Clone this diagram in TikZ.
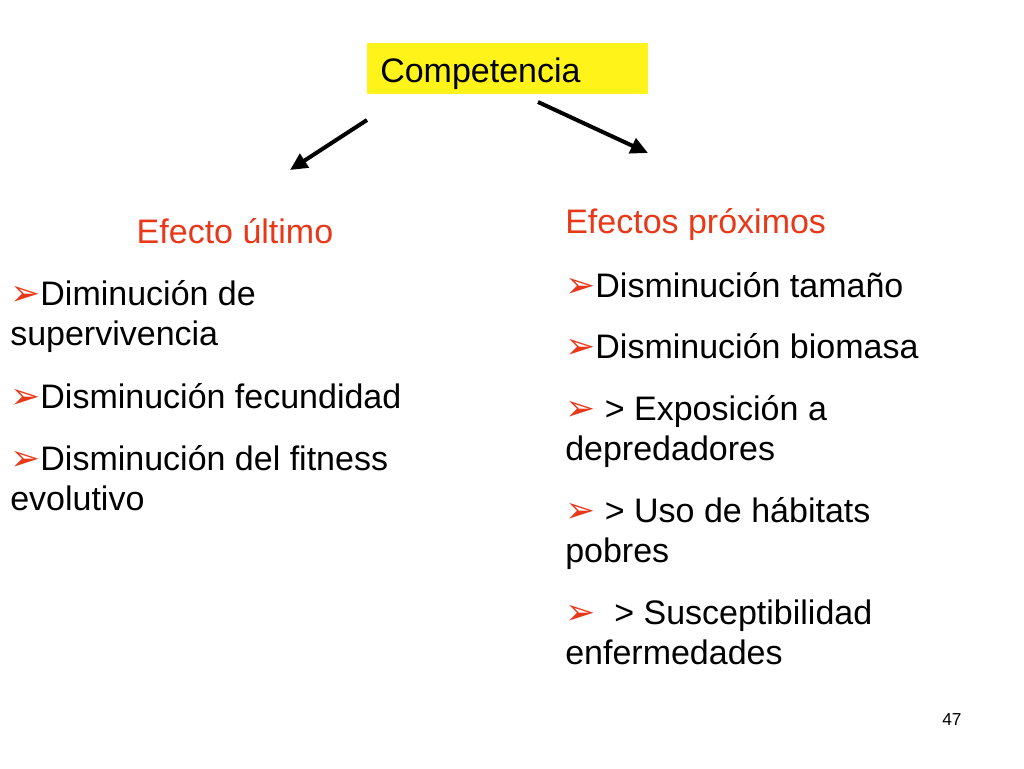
\documentclass[tikz,border=0pt]{standalone}
\usepackage{fontspec}
\setmainfont{Liberation Sans}
\newfontfamily\dv{DejaVu Sans}
\usetikzlibrary{arrows.meta}
\definecolor{tred}{HTML}{E8381A}
\newcommand{\bul}{{\dv\color{tred}\fontsize{27}{27}\selectfont ➢}}
\begin{document}
\begin{tikzpicture}[x=0.75pt,y=-0.75pt,
  txt/.style={anchor=base west,inner sep=0pt,font=\fontsize{25.5}{30}\selectfont},
  conn/.style={line width=3pt,-{Triangle[length=13pt,width=12pt]}}]
\useasboundingbox (0,0) rectangle (1024,768);
\fill[yellow!90!white] (367,43) rectangle (648,94);
\node[txt] (c) at (380,82) {Competencia};
\coordinate (a1) at (367,120); \coordinate (b1) at (290,170);
\coordinate (a2) at (538,102); \coordinate (b2) at (648,153);
\draw[conn] (a1) -- (b1);
\draw[conn] (a2) -- (b2);
\node[txt,anchor=base,text=tred] (l0) at (235,243) {Efecto último};
\node[txt] (l1) at (10,305) {\bul Diminución de};
\node[txt] (l1b) at (10,345) {supervivencia};
\node[txt] (l2) at (10,408) {\bul Disminución fecundidad};
\node[txt] (l3) at (10,470) {\bul Disminución del fitness};
\node[txt] (l3b) at (10,510) {evolutivo};
\node[txt,text=tred] (r0) at (565,233) {Efectos próximos};
\node[txt] (r1) at (565,297) {\bul Disminución tamaño};
\node[txt] (r2) at (565,358) {\bul Disminución biomasa};
\node[txt] (r3) at (565,420) {\bul\ > Exposición a};
\node[txt] (r3b) at (565,460) {depredadores};
\node[txt] (r4) at (565,522) {\bul\ > Uso de hábitats};
\node[txt] (r4b) at (565,562) {pobres};
\node[txt] (r5) at (565,624) {\bul\ \ > Susceptibilidad};
\node[txt] (r5b) at (565,664) {enfermedades};
\node[anchor=base west,inner sep=0pt,font=\fontsize{13}{13}\selectfont] (n) at (942,725) {47};
\end{tikzpicture}
\end{document}
